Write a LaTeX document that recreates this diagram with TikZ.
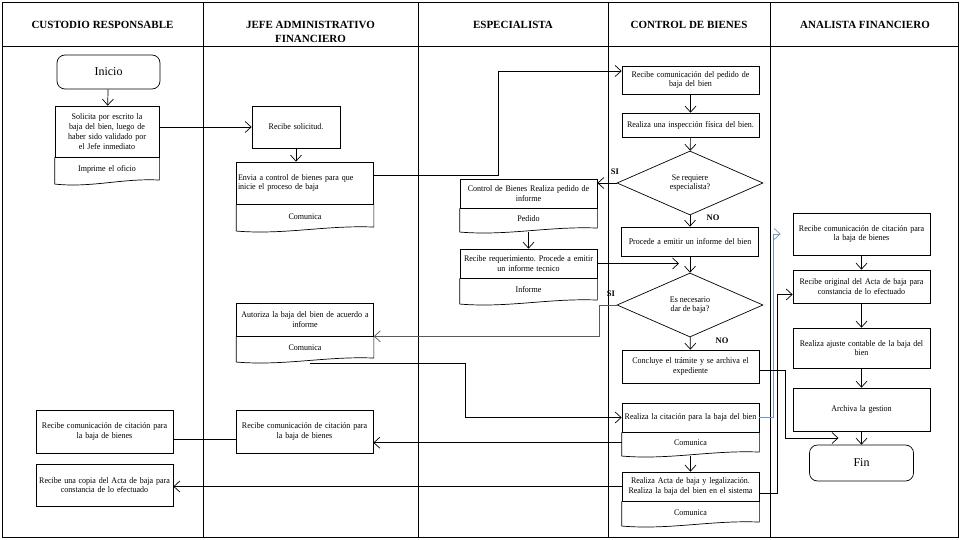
\documentclass[tikz,border=0pt]{standalone}
\usepackage{fontspec}
\setmainfont{Liberation Serif}
\newfontfamily\boxfont{Liberation Serif}[FakeStretch=0.93]
\usetikzlibrary{shapes.geometric,arrows.meta,calc,positioning}
\definecolor{laneblue}{RGB}{120,150,185}
\frenchspacing
\newcommand\docwave[1]{%
  \draw[line width=0.7pt] (#1.north west) -- ($(#1.south west)+(0,3)$)
    .. controls ($(#1.south west)!0.35!(#1.south east)+(0,7)$) and ($(#1.south west)!0.65!(#1.south east)+(0,-3)$)
    .. ($(#1.south east)+(0,-1)$) -- (#1.north east);}

\begin{document}
\begin{tikzpicture}[x=1pt,y=-1pt,
  every node/.style={font=\boxfont\fontsize{8.6}{9.8}\selectfont},
  lane/.style={line width=0.9pt},
  lanehead/.style={font=\rmfamily\fontsize{11}{14}\selectfont\bfseries,align=center},
  box/.style={draw,line width=0.7pt,inner xsep=1.5pt,inner ysep=1pt,text width=134pt,align=center},
  foot/.style={box,draw=none},
  term/.style={draw,line width=0.7pt,rounded corners=8pt,minimum width=103pt,minimum height=34pt,font=\rmfamily\fontsize{12}{14}\selectfont},
  dec/.style={draw,line width=0.7pt,diamond,minimum width=146pt,minimum height=64pt,inner sep=0pt,align=center},
  tag/.style={font=\rmfamily\fontsize{8.5}{9}\selectfont\bfseries,inner sep=0pt},
  arr/.style={line width=0.7pt,-{Straight Barb[length=6pt,width=11pt]}},
  link/.style={line width=0.7pt}]
  \useasboundingbox (0,0) rectangle (960,540);

  % swimlanes
  \draw[lane] (2,2) rectangle (958,537);
  \draw[lane] (2,46) -- (958,46);
  \foreach \x in {203,418,608,770} \draw[lane] (\x,2) -- (\x,537);
  \foreach \x/\y/\title [count=\i] in {102.5/25/CUSTODIO RESPONSABLE, 310.5/32/{JEFE ADMINISTRATIVO\\FINANCIERO},
      513/25/ESPECIALISTA, 689/25/CONTROL DE BIENES, 865/25/ANALISTA FINANCIERO}
    \node[lanehead] (lane\i) at (\x,\y) {\title};

  % custodio responsable
  \node[term] (inicio) at (108.5,72) {Inicio};
  \node[box,text width=101pt,minimum height=51pt] (solicita) at (107,131.5)
    {Solicita por escrito la\\baja del bien, luego de\\haber sido validado por\\el Jefe inmediato};
  \node[foot,text width=101pt,minimum height=23pt,below=0pt of solicita] (solicita-f) {Imprime el oficio};
  \node[box,minimum height=43pt] (custcita) at (104.5,431.5) {Recibe comunicación de citación\ para\\la baja de bienes};
  \node[box,minimum height=42pt] (custcopia) at (104.5,485) {Recibe una copia del Acta de baja para\\constancia de lo efectuado};

  % jefe administrativo financiero
  \node[box,text width=85pt,minimum height=42pt] (recsol) at (296,127) {Recibe solicitud.};
  \node[box,align=left,minimum height=42pt] (envia) at (305,183) {Envia a control de bienes para que\\inicie el proceso de baja};
  \node[foot,minimum height=23pt,below=0pt of envia] (envia-f) {Comunica};
  \node[box,minimum height=33pt] (autoriza) at (305,319.5) {Autoriza la baja del bien de acuerdo a\\informe};
  \node[foot,minimum height=22pt,below=0pt of autoriza] (autoriza-f) {Comunica};
  \node[box,minimum height=43pt] (jefecita) at (304.5,431.5) {Recibe comunicación de citación\ para\\la baja de bienes};

  % especialista
  \node[box,minimum height=29pt] (pedido) at (528.5,193.5) {Control de Bienes Realiza pedido de\\informe};
  \node[foot,minimum height=20pt,below=0pt of pedido] (pedido-f) {Pedido};
  \node[box,minimum height=29pt] (requer) at (528.5,263.5) {Recibe requerimiento. Procede a emitir\\un informe tecnico};
  \node[foot,minimum height=22pt,below=0pt of requer] (requer-f) {Informe};

  % control de bienes
  \node[box,minimum height=28pt] (recped) at (690.5,80) {Recibe comunicación del pedido de\\baja del bien};
  \node[box,minimum height=24pt] (inspec) at (690.5,125) {Realiza una inspección física del bien.};
  \node[dec] (d1) at (690,183) {Se requiere\\especialista?};
  \node[box,minimum height=29pt] (procede) at (690,241.5) {Procede a emitir un informe del bien};
  \node[dec] (d2) at (690,305) {Es necesario\\dar de baja?};
  \node[box,minimum height=33pt] (concluye) at (690.5,366.5) {Concluye el trámite y se archiva el\\expediente};
  \node[box,minimum height=29pt] (citacion) at (690.5,417.5) {Realiza la citación para la baja del bien};
  \node[foot,minimum height=20pt,below=0pt of citacion] (citacion-f) {Comunica};
  \node[box,minimum height=29pt] (acta) at (690.5,486.5) {Realiza Acta de baja y legalización.\\Realiza la baja del bien en el sistema};
  \node[foot,minimum height=21pt,below=0pt of acta] (acta-f) {Comunica};
  \node[tag] at (615,172) {SI};
  \node[tag] at (713,218) {NO};
  \node[tag] at (611,294) {SI};
  \node[tag] at (722,341) {NO};

  % analista financiero
  \node[box,minimum height=42pt] (reccita) at (861.5,234) {Recibe comunicación de citación\ para\\la baja de bienes};
  \node[box,minimum height=33pt] (recorig) at (861.5,286.5) {Recibe original del Acta de baja para\\constancia de lo efectuado};
  \node[box,minimum height=40pt] (ajuste) at (861.5,348) {Realiza ajuste contable de la baja del\\bien};
  \node[box,minimum height=43pt] (archiva) at (861.5,409.5) {Archiva la gestion};
  \node[term,minimum width=104pt,minimum height=36pt] (fin) at (861.5,463) {Fin};

  \foreach \n in {solicita-f,envia-f,autoriza-f,pedido-f,requer-f,citacion-f,acta-f} \docwave{\n};

  \coordinate (j1) at ($(procede.south)!0.5!(d2.north)$);
  \coordinate (j2) at ($(archiva.south)!0.5!(fin.north)$);

  \draw[arr] (inicio) -- (solicita);
  \draw[arr] (recsol.west -| solicita.east) -- (recsol.west);
  \draw[arr] (recsol.south) -- (recsol.south |- envia.north);
  \draw[arr] ($(envia.east)+(0,-8)$) -- ++(124,0) |- ($(recped.west)+(0,-9)$);
  \draw[arr] (recped) -- (inspec);
  \draw[arr] (inspec) -- (d1);
  \draw[arr] (d1.west) -- (d1.west -| pedido.east);
  \draw[arr] (d1) -- (procede);
  \draw[arr] ($(pedido-f.south)+(0,3)$) -- (requer);
  \draw[arr] (procede) -- (d2);
  \draw[arr,shorten >=11pt] (requer.east) -- (requer.east -| j1);
  \draw[arr,draw=black!65] (d2.west) -- ++(-17,0) |- (autoriza.south east);
  \draw[arr] (d2) -- (concluye);
  \draw[arr] ($(autoriza-f.south)+(5,4)$) -- ++(155,0) |- (citacion.west);
  \draw[arr] (citacion-f.west) -- (citacion-f.west -| jefecita.east);
  \draw[link] ($(jefecita.west)+(0,8)$) -- ($(custcita.east)+(0,8)$);
  \draw[arr] ($(citacion-f.south)+(0,3)$) -- (acta);
  \draw[arr] (acta.west) -- (acta.west -| custcopia.east);
  \draw[arr,draw=laneblue,shorten >=12pt] (citacion.east) -- ++(14,0) |- (reccita.west);
  \draw[arr] ($(acta.east)+(0,7)$) -- ++(18,0) |- ($(recorig.west)+(0,8)$);
  \draw[arr,shorten >=23pt] ($(concluye.east)+(0,4)$) -- ++(26,0) |- (j2);
  \draw[arr] (reccita) -- (recorig);
  \draw[arr] (recorig) -- (ajuste);
  \draw[arr] (ajuste) -- (archiva);
  \draw[arr] (archiva) -- (fin);
\end{tikzpicture}
\end{document}
